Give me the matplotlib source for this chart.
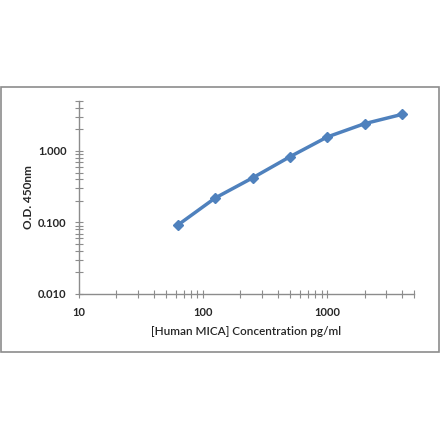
import numpy as np
import matplotlib.pyplot as plt
from matplotlib.patches import Rectangle
from matplotlib.ticker import LogLocator, FixedLocator, NullFormatter

# standard curve data
conc = [62.5, 125, 250, 500, 1000, 2000, 4000]
od = [0.092, 0.22, 0.42, 0.83, 1.57, 2.41, 3.25]
xticks = [10, 100, 1000]
xtick_labels = ['10', '100', '1000']
yticks = [0.01, 0.1, 1.0]
ytick_labels = ['0.010', '0.100', '1.000']

plt.rcParams['font.family'] = ['Lato', 'DejaVu Sans']
grey = '#8c8c8c'

fig = plt.figure(figsize=(4.4, 4.41), dpi=100)
fig.patches.append(Rectangle((1 / 440, 89 / 441), 438 / 440, 265 / 441,
                             transform=fig.transFigure, fill=False,
                             edgecolor=grey, linewidth=1.2))

ax = fig.add_axes([79 / 440, 147 / 441, 335 / 440, 193 / 441])
ax.plot(conc, od, color='#4f81bd', linewidth=2.5, marker='D',
        markersize=5.5, markerfacecolor='#4f81bd', markeredgecolor='#4f81bd')
ax.set_xscale('log')
ax.set_yscale('log')
ax.set_xlim(10, 5000)
ax.set_ylim(0.01, 5)

ax.xaxis.set_major_locator(FixedLocator(xticks))
ax.set_xticklabels(xtick_labels)
ax.yaxis.set_major_locator(FixedLocator(yticks))
ax.set_yticklabels(ytick_labels)
ax.xaxis.set_minor_locator(LogLocator(base=10, subs=np.arange(2, 10), numticks=20))
ax.yaxis.set_minor_locator(LogLocator(base=10, subs=np.arange(2, 10), numticks=20))
ax.xaxis.set_minor_formatter(NullFormatter())
ax.yaxis.set_minor_formatter(NullFormatter())

for s in ['top', 'right']:
    ax.spines[s].set_visible(False)
for s in ['left', 'bottom']:
    ax.spines[s].set_color(grey)
    ax.spines[s].set_linewidth(1.0)
ax.tick_params(which='both', direction='inout', length=6, width=0.8, color=grey)
ax.tick_params(which='major', labelsize=8, pad=6)
for lab in ax.get_xticklabels() + ax.get_yticklabels():
    lab.set_fontweight('bold')
    lab.set_color('#262626')

ax.set_xlabel('[Human MICA] Concentration pg/ml', fontsize=8.5,
              fontweight='semibold', color='#262626', labelpad=6)
ax.set_ylabel('O.D. 450nm', fontsize=8.5, fontweight='bold',
              color='#262626', labelpad=3)

fig.savefig('out.png', dpi=100, facecolor='white')
